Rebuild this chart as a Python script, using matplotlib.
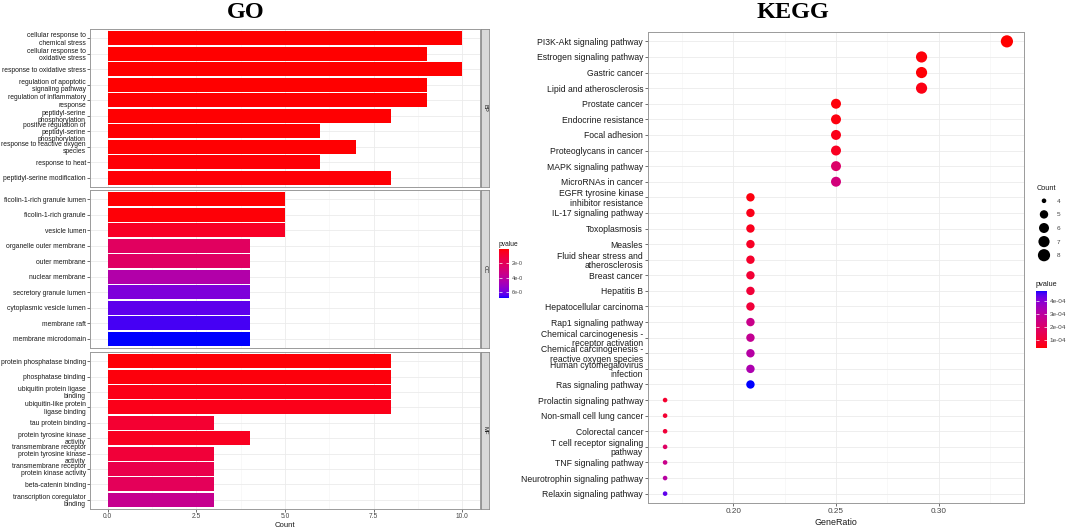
import numpy as np
import matplotlib
matplotlib.use("Agg")
import matplotlib.pyplot as plt
from matplotlib.colors import ListedColormap, Normalize
from matplotlib.cm import ScalarMappable
from matplotlib.ticker import FuncFormatter, FixedLocator

plt.rcParams['font.family'] = ['Liberation Sans', 'DejaVu Sans']

# ---------------- data ----------------
bp_terms = ["cellular response to\nchemical stress", "cellular response to\noxidative stress",
            "response to oxidative stress", "regulation of apoptotic\nsignaling pathway",
            "regulation of inflammatory\nresponse", "peptidyl-serine\nphosphorylation",
            "positive regulation of\npeptidyl-serine\nphosphorylation",
            "response to reactive oxygen\nspecies", "response to heat", "peptidyl-serine modification"]
bp_counts = [10, 9, 10, 9, 9, 8, 6, 7, 6, 8]
bp_p = [0.01e-6, 0.02e-6, 0.01e-6, 0.03e-6, 0.04e-6, 0.05e-6, 0.06e-6, 0.06e-6, 0.07e-6, 0.08e-6]

cc_terms = ["ficolin-1-rich granule lumen", "ficolin-1-rich granule", "vesicle lumen",
            "organelle outer membrane", "outer membrane", "nuclear membrane",
            "secretory granule lumen", "cytoplasmic vesicle lumen", "membrane raft",
            "membrane microdomain"]
cc_counts = [5, 5, 5, 4, 4, 4, 4, 4, 4, 4]
cc_p = [0.05e-6, 0.1e-6, 0.6e-6, 2.2e-6, 2.3e-6, 4.4e-6, 5.8e-6, 6.3e-6, 6.55e-6, 6.86e-6]

mf_terms = ["protein phosphatase binding", "phosphatase binding", "ubiquitin protein ligase\nbinding",
            "ubiquitin-like protein\nligase binding", "tau protein binding",
            "protein tyrosine kinase\nactivity", "transmembrane receptor\nprotein tyrosine kinase\nactivity",
            "transmembrane receptor\nprotein kinase activity", "beta-catenin binding",
            "transcription coregulator\nbinding"]
mf_counts = [8, 8, 8, 8, 3, 4, 3, 3, 3, 3]
mf_p = [0.1e-6, 0.15e-6, 0.3e-6, 0.35e-6, 0.9e-6, 0.5e-6, 1.1e-6, 1.6e-6, 2.0e-6, 3.6e-6]

go_panels = ["BP", "CC", "MF"]
go_xticks = [0.0, 2.5, 5.0, 7.5, 10.0]
go_cbar_ticks = [2e-6, 4e-6, 6e-6]

kegg_terms = ["PI3K-Akt signaling pathway", "Estrogen signaling pathway", "Gastric cancer",
              "Lipid and atherosclerosis", "Prostate cancer", "Endocrine resistance",
              "Focal adhesion", "Proteoglycans in cancer", "MAPK signaling pathway",
              "MicroRNAs in cancer", "EGFR tyrosine kinase\ninhibitor resistance",
              "IL-17 signaling pathway", "Toxoplasmosis", "Measles",
              "Fluid shear stress and\natherosclerosis", "Breast cancer", "Hepatitis B",
              "Hepatocellular carcinoma", "Rap1 signaling pathway",
              "Chemical carcinogenesis -\nreceptor activation",
              "Chemical carcinogenesis -\nreactive oxygen species",
              "Human cytomegalovirus\ninfection", "Ras signaling pathway",
              "Prolactin signaling pathway", "Non-small cell lung cancer", "Colorectal cancer",
              "T cell receptor signaling\npathway", "TNF signaling pathway",
              "Neurotrophin signaling pathway", "Relaxin signaling pathway"]
kegg_ratio = [0.3333, 0.2917, 0.2917, 0.2917, 0.25, 0.25, 0.25, 0.25, 0.25, 0.25,
              0.2083, 0.2083, 0.2083, 0.2083, 0.2083, 0.2083, 0.2083, 0.2083, 0.2083, 0.2083,
              0.2083, 0.2083, 0.2083, 0.1667, 0.1667, 0.1667, 0.1667, 0.1667, 0.1667, 0.1667]
kegg_counts = [8, 7, 7, 7, 6, 6, 6, 6, 6, 6,
               5, 5, 5, 5, 5, 5, 5, 5, 5, 5, 5, 5, 5,
               4, 4, 4, 4, 4, 4, 4]
kegg_p = [0.38e-4, 0.45e-4, 0.42e-4, 0.55e-4, 0.45e-4, 0.5e-4, 0.6e-4, 0.7e-4, 1.95e-4, 2.3e-4,
          0.5e-4, 0.6e-4, 0.65e-4, 0.75e-4, 0.85e-4, 1.0e-4, 1.05e-4, 1.1e-4, 2.6e-4, 2.75e-4,
          3.1e-4, 3.3e-4, 4.77e-4, 0.9e-4, 0.95e-4, 1.05e-4, 1.85e-4, 2.6e-4, 3.05e-4, 4.4e-4]
kegg_xticks = [0.20, 0.25, 0.30]
kegg_cbar_ticks = [1e-4, 2e-4, 3e-4, 4e-4]
count_breaks = [4, 5, 6, 7, 8]

# ---------------- colour map: red -> blue interpolated in CIE Lab (like ggplot) ----------------
_M = np.array([[0.4124564, 0.3575761, 0.1804375],
               [0.2126729, 0.7151522, 0.0721750],
               [0.0193339, 0.1191920, 0.9503041]])
_W = _M @ np.ones(3)
_d = 6 / 29


def _f(t):
    return np.where(t > _d ** 3, np.cbrt(t), t / (3 * _d * _d) + 4 / 29)


def _finv(t):
    return np.where(t > _d, t ** 3, 3 * _d * _d * (t - 4 / 29))


def rgb2lab(rgb):
    c = np.asarray(rgb, float)
    lin = np.where(c <= 0.04045, c / 12.92, ((c + 0.055) / 1.055) ** 2.4)
    xyz = (_M @ lin) / _W
    fx, fy, fz = _f(xyz)
    return np.array([116 * fy - 16, 500 * (fx - fy), 200 * (fy - fz)])


def lab2rgb(lab):
    L, a, b = lab
    fy = (L + 16) / 116
    fx = fy + a / 500
    fz = fy - b / 200
    xyz = _W * _finv(np.array([fx, fy, fz]))
    lin = np.linalg.solve(_M, xyz)
    lin = np.clip(lin, 0, 1)
    srgb = np.where(lin <= 0.0031308, 12.92 * lin, 1.055 * lin ** (1 / 2.4) - 0.055)
    return np.clip(srgb, 0, 1)


lab_r = rgb2lab([1, 0, 0])
lab_b = rgb2lab([0, 0, 1])
cols = [lab2rgb(lab_r + (lab_b - lab_r) * t) for t in np.linspace(0, 1, 256)]
cmap = ListedColormap(cols)

# ---------------- figure ----------------
W, H = 1072, 528
fig = plt.figure(figsize=(W / 100, H / 100), dpi=100)


def ax_px(l, t, r, b):
    return fig.add_axes([l / W, 1 - b / H, (r - l) / W, (b - t) / H])


border_c = "#9a9a9a"
grid_c = "#ebebeb"
tick_c = "#333333"
lab_c = "#1a1a1a"

fig.text(246 / W, 1 - 12 / H, "GO", ha="center", va="center", fontsize=17.5,
         fontweight="bold", family=["Liberation Serif", "DejaVu Serif"])
fig.text(793 / W, 1 - 12 / H, "KEGG", ha="center", va="center", fontsize=17.5,
         fontweight="bold", family=["Liberation Serif", "DejaVu Serif"])

# ---------------- GO ----------------
go_all_p = bp_p + cc_p + mf_p
go_norm = Normalize(vmin=min(go_all_p), vmax=max(go_all_p))
go_data = [(bp_terms, bp_counts, bp_p), (cc_terms, cc_counts, cc_p), (mf_terms, mf_counts, mf_p)]
panel_px = [(29, 187), (190, 348), (352, 509)]

for k, ((terms, counts, pv), (top, bot)) in enumerate(zip(go_data, panel_px)):
    ax = ax_px(90, top, 480, bot)
    n = len(terms)
    y = np.arange(n)
    ax.barh(y, counts, height=0.9, color=cmap(go_norm(np.array(pv))), zorder=3)
    ax.set_ylim(n - 0.4, -0.6)
    ax.set_xlim(-0.5, 10.5)
    ax.set_yticks(y)
    ax.set_yticklabels(terms, fontsize=4.9, color=lab_c, multialignment="right", linespacing=1.05)
    ax.xaxis.set_major_locator(FixedLocator(go_xticks))
    ax.xaxis.set_minor_locator(FixedLocator([1.25, 3.75, 6.25, 8.75]))
    ax.grid(True, which="major", color=grid_c, lw=0.6, zorder=0)
    ax.grid(True, which="minor", axis="x", color="#f3f3f3", lw=0.4, zorder=0)
    ax.tick_params(axis="both", which="major", length=2, width=0.5, color=tick_c, pad=1)
    ax.tick_params(axis="x", which="minor", length=0)
    for s in ax.spines.values():
        s.set_color(border_c)
        s.set_linewidth(0.7)
    if k < 2:
        ax.tick_params(axis="x", labelbottom=False, length=0)
    else:
        ax.set_xticklabels([f"{v:.1f}" for v in go_xticks], fontsize=4.8, color="#444444")
        ax.set_xlabel("Count", fontsize=5.6, color=lab_c, labelpad=1)
    sax = ax_px(481, top, 489, bot)
    sax.set_facecolor("#d9d9d9")
    sax.set_xticks([])
    sax.set_yticks([])
    for s in sax.spines.values():
        s.set_color("#8a8a8a")
        s.set_linewidth(0.6)
    sax.text(0.5, 0.5, go_panels[k], rotation=-90, ha="center", va="center",
             fontsize=4.2, color="#1a1a1a", transform=sax.transAxes)

# GO colour bar
cax = ax_px(499, 249, 509, 298)
cb = fig.colorbar(ScalarMappable(norm=go_norm, cmap=cmap), cax=cax)
cb.outline.set_visible(False)
cax.invert_yaxis()
cb.set_ticks(go_cbar_ticks)
cb.ax.yaxis.set_major_formatter(FuncFormatter(lambda v, _: f"{v:.0e}"[:4]))
cax.tick_params(which="both", direction="in", color="white", length=2, width=0.5,
                labelsize=4, labelcolor="#444444", pad=2, left=True, right=True)
cax.minorticks_off()
fig.text(499 / W, 1 - 244 / H, "pvalue", ha="left", va="center", fontsize=4.8, color=lab_c)

# ---------------- KEGG ----------------
kax = ax_px(648, 32, 1024, 503)
nk = len(kegg_terms)
yk = np.arange(nk)
kegg_norm = Normalize(vmin=min(kegg_p), vmax=max(kegg_p))
cmin, cmax = min(count_breaks), max(count_breaks)


def dot_size(c):
    c = np.asarray(c, float)
    diam_px = 4.6 + 7.6 * np.sqrt((c - cmin) / (cmax - cmin))
    return (diam_px * 0.72) ** 2


kax.scatter(kegg_ratio, yk, s=dot_size(kegg_counts), c=kegg_p, cmap=cmap, norm=kegg_norm,
            linewidths=0, zorder=3)
xr = max(kegg_ratio) - min(kegg_ratio)
kax.set_xlim(min(kegg_ratio) - 0.05 * xr, max(kegg_ratio) + 0.05 * xr)
kax.set_ylim(nk - 0.4, -0.6)
kax.set_yticks(yk)
kax.set_yticklabels(kegg_terms, fontsize=6.2, color=lab_c, multialignment="right", linespacing=1.05)
kax.xaxis.set_major_locator(FixedLocator(kegg_xticks))
kax.xaxis.set_minor_locator(FixedLocator([0.175, 0.225, 0.275, 0.325]))
kax.set_xticklabels([f"{v:.2f}" for v in kegg_xticks], fontsize=5.9, color="#444444")
kax.set_xlabel("GeneRatio", fontsize=6.4, color=lab_c, labelpad=2)
kax.grid(True, which="major", color=grid_c, lw=0.6, zorder=0)
kax.grid(True, which="minor", axis="x", color="#f3f3f3", lw=0.4, zorder=0)
kax.tick_params(axis="both", which="major", length=2, width=0.5, color=tick_c, pad=1.5)
kax.tick_params(axis="x", which="minor", length=0)
for s in kax.spines.values():
    s.set_color(border_c)
    s.set_linewidth(0.7)

# Count legend
fig.text(1037 / W, 1 - 188 / H, "Count", ha="left", va="center", fontsize=5.3, color=lab_c)
lax = ax_px(1034, 194, 1054, 262)
lax.scatter(np.zeros(len(count_breaks)), np.arange(len(count_breaks)), s=dot_size(count_breaks),
            color="black", linewidths=0)
lax.set_xlim(-1, 1)
lax.set_ylim(len(count_breaks) - 0.5, -0.5)
lax.set_xticks([])
lax.yaxis.tick_right()
lax.set_yticks(np.arange(len(count_breaks)))
lax.set_yticklabels([str(c) for c in count_breaks], fontsize=4.6, color="#444444")
lax.tick_params(axis="y", length=0, pad=2)
for s in lax.spines.values():
    s.set_visible(False)
lax.patch.set_alpha(0)

# KEGG colour bar
fig.text(1036 / W, 1 - 285 / H, "pvalue", ha="left", va="center", fontsize=5.3, color=lab_c)
kcax = ax_px(1036, 291, 1047, 348)
kcb = fig.colorbar(ScalarMappable(norm=kegg_norm, cmap=cmap), cax=kcax)
kcb.outline.set_visible(False)
kcb.set_ticks(kegg_cbar_ticks)
kcax.yaxis.set_major_formatter(FuncFormatter(lambda v, _: f"{v:.0e}"))
kcax.tick_params(which="both", direction="in", color="white", length=2, width=0.5,
                 labelsize=4.6, labelcolor="#444444", pad=2, left=True, right=True)
kcax.minorticks_off()

fig.savefig("out.png", dpi=100)
